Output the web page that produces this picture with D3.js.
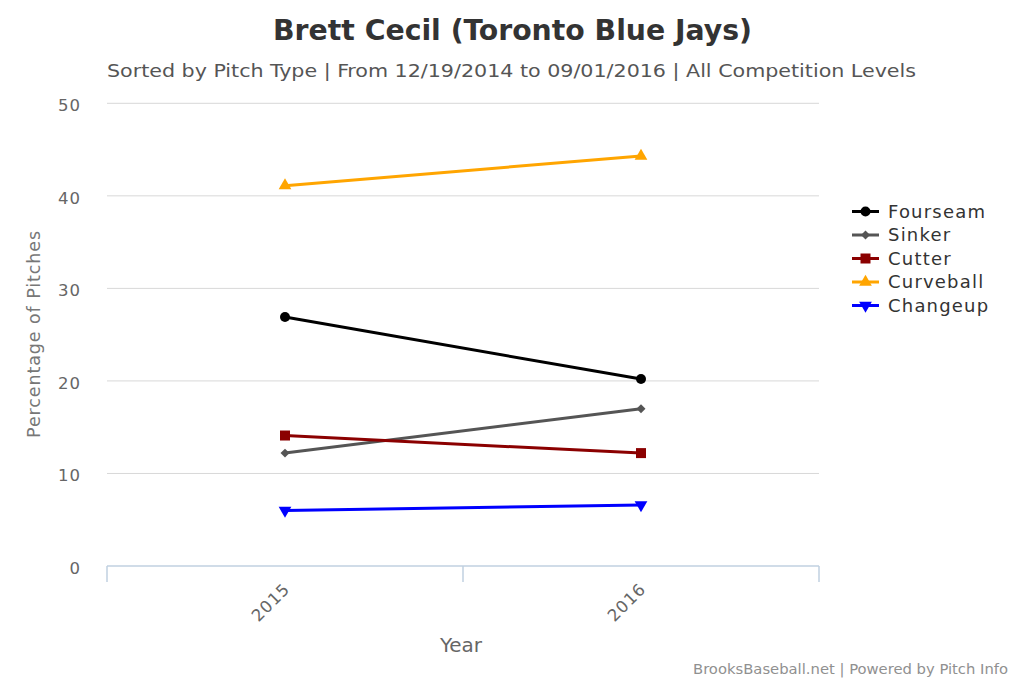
<!DOCTYPE html>
<html><head><meta charset="utf-8">
<script src="https://cdn.jsdelivr.net/npm/d3@7"></script>
<style>body{margin:0;background:#fff}svg{display:block}</style>
</head><body>
<svg id="c" width="1024" height="683"></svg>
<script>
const years = ["2015", "2016"];
const seriesNames = ["Fourseam", "Sinker", "Cutter", "Curveball", "Changeup"];
const fourseam = [26.9, 20.2];
const sinker = [12.2, 17.0];
const cutter = [14.1, 12.2];
const curveball = [41.1, 44.3];
const changeup = [6.0, 6.6];
const yTicks = [0, 10, 20, 30, 40, 50];

const colors = ["#000000", "#555555", "#8b0000", "#ffa500", "#0000ff"];
const symbols = ["circle", "diamond", "square", "up", "down"];
const values = [fourseam, sinker, cutter, curveball, changeup];

const svg = d3.select("#c");
const font = "'DejaVu Sans', sans-serif";
const cond = "'DejaVu Sans Condensed', 'DejaVu Sans', sans-serif";
const L = 107, R = 819, T = 103.3, B = 566;

const x = d3.scaleBand().domain(years).range([L, R]).paddingInner(0).paddingOuter(0);
const y = d3.scaleLinear().domain([0, 50]).range([B, T]);

// title
svg.append("text").attr("x", 512.5).attr("y", 40).attr("text-anchor", "middle")
  .attr("font-family", cond).attr("font-stretch", "condensed").attr("font-size", 28).attr("font-weight", "bold")
  .attr("textLength", 479).attr("lengthAdjust", "spacingAndGlyphs")
  .attr("fill", "#333").text("Brett Cecil (Toronto Blue Jays)");
svg.append("text").attr("x", 511.5).attr("y", 77).attr("text-anchor", "middle")
  .attr("font-family", cond).attr("font-stretch", "condensed").attr("font-size", 18.5)
  .attr("textLength", 809).attr("lengthAdjust", "spacingAndGlyphs")
  .attr("fill", "#555").text("Sorted by Pitch Type | From 12/19/2014 to 09/01/2016 | All Competition Levels");

// grid
svg.append("g").selectAll("line").data(yTicks.filter(d => d > 0)).join("line")
  .attr("x1", L).attr("x2", R).attr("y1", d => y(d)).attr("y2", d => y(d))
  .attr("stroke", "#d8d8d8").attr("stroke-width", 1);

// y axis labels
const ya = svg.append("g").attr("transform", `translate(${L},0)`)
  .call(d3.axisLeft(y).tickValues(yTicks).tickSize(0).tickPadding(26));
ya.select(".domain").remove();
ya.selectAll("text").attr("font-family", font).attr("font-size", 16.5).attr("letter-spacing", 1)
  .attr("fill", "#666").attr("dy", "0.45em");

svg.append("text").attr("transform", "translate(40,334) rotate(-90)").attr("text-anchor", "middle")
  .attr("font-family", font).attr("font-size", 17.5).attr("letter-spacing", 0.9)
  .attr("fill", "#777").text("Percentage of Pitches");

// x axis
const xa = svg.append("g").attr("transform", `translate(0,${B})`)
  .call(d3.axisBottom(x).tickSize(0).tickPadding(0));
xa.select(".domain").attr("stroke", "#c0d0e0").attr("stroke-width", 1.5).attr("d", `M${L},0H${R}`);
xa.selectAll(".tick text").attr("font-family", font).attr("font-size", 16.5).attr("letter-spacing", 1)
  .attr("fill", "#666").attr("text-anchor", "end").attr("dy", 0).attr("transform", "translate(6,24) rotate(-45)");
const edges = [L, ...years.slice(1).map(d => x(d)), R];
xa.append("g").selectAll("line").data(edges).join("line")
  .attr("x1", d => d).attr("x2", d => d).attr("y1", 0).attr("y2", 16)
  .attr("stroke", "#c0d0e0").attr("stroke-width", 1.5);

svg.append("text").attr("x", 461).attr("y", 652).attr("text-anchor", "middle")
  .attr("font-family", cond).attr("font-stretch", "condensed").attr("font-size", 20)
  .attr("textLength", 42).attr("lengthAdjust", "spacingAndGlyphs")
  .attr("fill", "#666").text("Year");

svg.append("text").attr("x", 1008).attr("y", 674).attr("text-anchor", "end")
  .attr("font-family", cond).attr("font-stretch", "condensed").attr("font-size", 14)
  .attr("textLength", 315).attr("lengthAdjust", "spacingAndGlyphs")
  .attr("fill", "#909090").text("BrooksBaseball.net | Powered by Pitch Info");

function marker(kind) {
  if (kind === "circle") return { d: d3.symbol(d3.symbolCircle, 78)(), rot: 0 };
  if (kind === "diamond") return { d: d3.symbol(d3.symbolSquare, 40)(), rot: 45 };
  if (kind === "square") return { d: d3.symbol(d3.symbolSquare, 100)(), rot: 0 };
  if (kind === "up") return { d: d3.symbol(d3.symbolTriangle, 70)(), rot: 0 };
  return { d: d3.symbol(d3.symbolTriangle, 70)(), rot: 180 };
}
const cx = d => x(d) + x.bandwidth() / 2;

// series lines
seriesNames.forEach((name, i) => {
  const pts = years.map((yr, j) => [cx(yr), y(values[i][j])]);
  const m = marker(symbols[i]);
  svg.append("path").attr("d", d3.line()(pts)).attr("fill", "none")
    .attr("stroke", colors[i]).attr("stroke-width", 3);
  svg.append("g").selectAll("path").data(pts).join("path")
    .attr("d", m.d)
    .attr("transform", p => `translate(${p[0]},${p[1]}) rotate(${m.rot})`)
    .attr("fill", colors[i]);
});

// legend
const lg = svg.append("g");
seriesNames.forEach((name, i) => {
  const yy = 211.5 + i * 23.5;
  const m = marker(symbols[i]);
  lg.append("line").attr("x1", 852).attr("x2", 879).attr("y1", yy).attr("y2", yy)
    .attr("stroke", colors[i]).attr("stroke-width", 3);
  lg.append("path").attr("d", m.d)
    .attr("transform", `translate(865.5,${yy}) rotate(${m.rot})`)
    .attr("fill", colors[i]);
  lg.append("text").attr("x", 888).attr("y", yy + 6.2).attr("font-family", font).attr("font-size", 18)
    .attr("letter-spacing", 1.2).attr("fill", "#333").text(name);
});
</script>
</body></html>
